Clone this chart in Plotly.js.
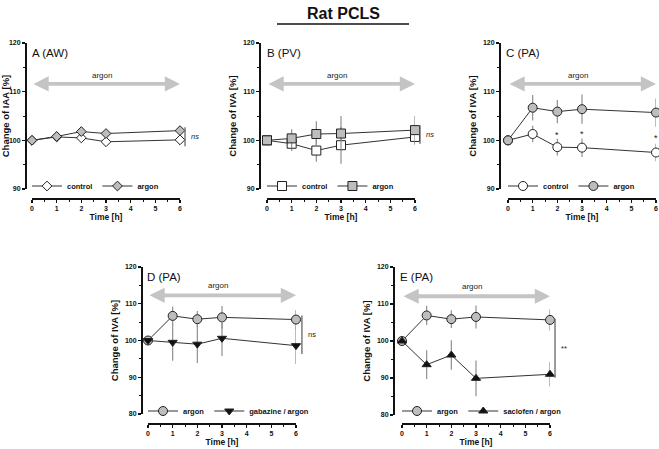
<!DOCTYPE html>
<html><head><meta charset="utf-8">
<script src="https://cdn.plot.ly/plotly-3.0.1.min.js"></script>
<style>html,body{margin:0;padding:0;background:#fff}#chart{width:659px;height:449px}</style>
</head><body><div id="chart"></div>
<script>
// ---------- DATA ----------
const hours = [0, 1, 2, 3, 6];
const xTicks = [0, 1, 2, 3, 4, 5, 6];

// A (AW)
const aControl    = [100, 100.7, 100.5, 99.7, 100.1];
const aControlErr = [0.3, 0.4, 0.4, 0.5, 1.1];
const aArgon      = [100, 100.8, 101.8, 101.4, 102.0];
const aArgonErr   = [0.3, 0.4, 0.5, 0.5, 0.8];
// B (PV)
const bControl    = [100, 99.3, 97.9, 99.0, 100.7];
const bControlErr = [0.4, 1.5, 2.3, 3.8, 1.6];
const bArgon      = [100, 100.4, 101.3, 101.4, 102.1];
const bArgonErr   = [0.4, 1.9, 2.6, 3.6, 2.9];
// C (PA)
const cControl    = [100, 101.3, 98.6, 98.5, 97.5];
const cControlErr = [0.3, 1.7, 1.7, 1.9, 1.8];
const cArgon      = [100, 106.7, 105.9, 106.4, 105.7];
const cArgonErr   = [0.3, 2.6, 2.4, 3.0, 2.9];
// D (PA)
const dArgon      = [100, 106.7, 105.8, 106.3, 105.7];
const dArgonErr   = [0.4, 2.5, 2.2, 3.1, 2.6];
const dGabazine   = [100, 99.5, 99.0, 100.6, 98.6];
const dGabazineErr= [0.6, 5.0, 5.1, 4.8, 5.0];
// E (PA)
const eArgon      = [100, 106.9, 105.9, 106.5, 105.7];
const eArgonErr   = [0.4, 2.6, 2.4, 3.1, 2.9];
const eSaclofen   = [100, 93.6, 96.2, 89.9, 91.0];
const eSaclofenErr= [0.5, 3.9, 4.0, 4.8, 3.3];

// significance brackets (value span) and labels
const sigA = [98.8, 102.7], sigB = [99.3, 103.1], sigD = [96.3, 106.8], sigE = [90.1, 106.0];
const starHours = [2, 3, 6];

// ---------- LAYOUT HELPERS ----------
const W = 659, H = 449;
const px = v => v / W;
const py = v => 1 - v / H;
const FONT = 'Arial, "Liberation Sans", sans-serif';
const INK = '#111111';
const GREY = '#c4c4c4';

const data = [];
const layout = {
  width: W, height: H,
  margin: {l: 0, r: 0, t: 0, b: 0},
  paper_bgcolor: '#fff', plot_bgcolor: 'rgba(0,0,0,0)',
  font: {family: FONT, color: INK},
  annotations: [], shapes: []
};

function panel(n, geo, yTitle, label, series) {
  const xs = n === 1 ? '' : String(n);
  const xa = 'xaxis' + xs, ya = 'yaxis' + xs;
  const xr = 'x' + xs, yr = 'y' + xs;
  const lg = n === 1 ? 'legend' : 'legend' + n;
  layout[xa] = {
    domain: [px(geo.x0), px(geo.x6)], range: [0, 6],
    anchor: 'free', position: py(geo.xLine),
    showline: true, linecolor: INK, linewidth: 1.5,
    ticks: 'outside', ticklen: 3, tickwidth: 1.2, tickcolor: INK,
    tickvals: xTicks, ticktext: xTicks.map(String),
    minor: {ticks: 'outside', ticklen: 2, tickwidth: 1, dtick: 0.5, tick0: 0, tickcolor: INK},
    showgrid: false, zeroline: false,
    tickfont: {size: 7, weight: 'bold', family: FONT, color: INK},
    title: {text: 'Time [h]', font: {size: 8.5, weight: 'bold', family: FONT, color: INK}, standoff: 3}
  };
  layout[ya] = {
    domain: [py(geo.yBot), py(geo.yTop)], range: geo.yRange,
    anchor: 'free', position: px(geo.yLine),
    showline: true, linecolor: INK, linewidth: 1.5,
    ticks: 'outside', ticklen: 3, tickwidth: 1.2, tickcolor: INK,
    dtick: 10, tick0: 0,
    minor: {ticks: 'outside', ticklen: 2, tickwidth: 1, dtick: 5, tick0: 0, tickcolor: INK},
    showgrid: false, zeroline: false,
    tickfont: {size: 7, weight: 'bold', family: FONT, color: INK},
    title: {text: yTitle, font: {size: 9.5, weight: 'bold', family: FONT, color: INK}, standoff: 3}
  };
  series.forEach(s => {
    data.push({
      type: 'scatter', mode: 'lines+markers', name: s.name,
      x: hours, y: s.y, xaxis: xr, yaxis: yr, legend: lg, cliponaxis: false,
      line: {color: '#333', width: 1},
      marker: {symbol: s.symbol, size: s.size, color: s.fill, line: {color: '#222', width: 1}},
      error_y: {type: 'data', array: s.err, visible: true, color: '#8f8f8f', thickness: 1.2, width: 0}
    });
  });
  layout[lg] = {
    x: px(geo.x0 - 5), y: py(geo.legY), xanchor: 'left', yanchor: 'middle',
    orientation: 'h', bgcolor: 'rgba(0,0,0,0)', itemwidth: 30,
    font: {size: 7.5, weight: 'bold', family: FONT, color: INK}, traceorder: 'normal'
  };
  // panel label
  layout.annotations.push({xref: 'paper', yref: 'paper', x: px(geo.labX), y: py(geo.labY),
    xanchor: 'left', yanchor: 'middle', text: label, showarrow: false,
    font: {size: 11.5, family: FONT, color: INK}});
  // argon arrow
  layout.annotations.push({xref: xr, yref: yr, axref: xr, ayref: yr,
    x: 6, y: geo.arrowY, ax: 0, ay: geo.arrowY, text: '', showarrow: true,
    arrowside: 'end+start', arrowhead: 2, startarrowhead: 2, arrowsize: 0.8, startarrowsize: 0.8,
    arrowwidth: 3.8, arrowcolor: GREY, standoff: 0, startstandoff: 0});
  layout.annotations.push({xref: xr, yref: yr, x: 2.85, y: geo.argonY, text: 'argon',
    showarrow: false, font: {size: 8, family: FONT, color: '#222'}});
}

function bracket(n, geo, span, text, italic) {
  const xs = n === 1 ? '' : String(n);
  const lo = geo.yRange[0], hi = geo.yRange[1];
  const f = v => (v - lo) / (hi - lo);
  layout.shapes.push({type: 'line', xref: 'x' + xs + ' domain', yref: 'y' + xs + ' domain',
    x0: geo.brX, x1: geo.brX, y0: f(span[0]), y1: f(span[1]),
    line: {color: '#666', width: 1.3}});
  layout.annotations.push({xref: 'x' + xs + ' domain', yref: 'y' + xs, x: geo.brX + 0.025,
    y: (span[0] + span[1]) / 2, xanchor: 'left', yanchor: 'middle', text: text, showarrow: false,
    font: {size: 7.5, family: FONT, style: italic ? 'italic' : 'normal', color: '#222'}});
}

const gA = {x0: 32, x6: 180, yTop: 43, yBot: 189, xLine: 198, yLine: 25, yRange: [90, 120], legY: 186, labX: 30, labY: 53, arrowY: 111.6, argonY: 113.3, brX: 1.034};
const gB = {x0: 267, x6: 415, yTop: 43, yBot: 189, xLine: 198, yLine: 259, yRange: [90, 120], legY: 186, labX: 265, labY: 53, arrowY: 111.6, argonY: 113.3, brX: 1.034};
const gC = {x0: 508, x6: 656, yTop: 43, yBot: 189, xLine: 198, yLine: 499, yRange: [90, 120], legY: 186, labX: 504, labY: 53, arrowY: 111.6, argonY: 113.3, brX: 1.034};
const gD = {x0: 148, x6: 296, yTop: 267, yBot: 414, xLine: 423, yLine: 141, yRange: [80, 120], legY: 411, labX: 145, labY: 277, arrowY: 112.3, argonY: 114.9, brX: 1.04};
const gE = {x0: 402, x6: 550, yTop: 267, yBot: 415, xLine: 423, yLine: 393, yRange: [80, 120], legY: 411, labX: 398, labY: 277, arrowY: 112.1, argonY: 114.6, brX: 1.034};

const WHITE = '#ffffff', GFILL = '#bdbdbd', BLACK = '#111111';

panel(1, gA, 'Change of IAA [%]', 'A (AW)', [
  {name: 'control', y: aControl, err: aControlErr, symbol: 'diamond', size: 7.5, fill: WHITE},
  {name: 'argon', y: aArgon, err: aArgonErr, symbol: 'diamond', size: 7.5, fill: GFILL}]);
panel(2, gB, 'Change of IVA [%]', 'B (PV)', [
  {name: 'control', y: bControl, err: bControlErr, symbol: 'square', size: 9, fill: WHITE},
  {name: 'argon', y: bArgon, err: bArgonErr, symbol: 'square', size: 9, fill: GFILL}]);
panel(3, gC, 'Change of IVA [%]', 'C (PA)', [
  {name: 'control', y: cControl, err: cControlErr, symbol: 'circle', size: 9, fill: WHITE},
  {name: 'argon', y: cArgon, err: cArgonErr, symbol: 'circle', size: 9, fill: GFILL}]);
panel(4, gD, 'Change of IVA [%]', 'D (PA)', [
  {name: 'argon', y: dArgon, err: dArgonErr, symbol: 'circle', size: 9, fill: GFILL},
  {name: 'gabazine / argon', y: dGabazine, err: dGabazineErr, symbol: 'triangle-down', size: 8, fill: BLACK}]);
panel(5, gE, 'Change of IVA [%]', 'E (PA)', [
  {name: 'argon', y: eArgon, err: eArgonErr, symbol: 'circle', size: 9, fill: GFILL},
  {name: 'saclofen / argon', y: eSaclofen, err: eSaclofenErr, symbol: 'triangle-up', size: 8, fill: BLACK}]);

bracket(1, gA, sigA, 'ns', true);
bracket(2, gB, sigB, 'ns', true);
bracket(4, gD, sigD, 'ns', false);
bracket(5, gE, sigE, '**', false);

// asterisks in panel C between the two series
starHours.forEach(h => {
  const i = hours.indexOf(h);
  layout.annotations.push({xref: 'x3', yref: 'y3', x: h, y: (cControl[i] + cArgon[i]) / 2 - 1.2,
    text: '*', showarrow: false, font: {size: 9, family: FONT, color: '#222'}});
});

// main title with underline
layout.annotations.push({xref: 'paper', yref: 'paper', x: px(343), y: py(13), xanchor: 'center', yanchor: 'middle',
  text: '<b>Rat PCLS</b>', showarrow: false, font: {size: 16, family: FONT, color: INK}});
layout.shapes.push({type: 'line', xref: 'paper', yref: 'paper', x0: px(277), x1: px(409), y0: py(24), y1: py(24),
  line: {color: INK, width: 1.5}});

Plotly.newPlot('chart', data, layout, {displayModeBar: false, staticPlot: true});
</script>
</body></html>
